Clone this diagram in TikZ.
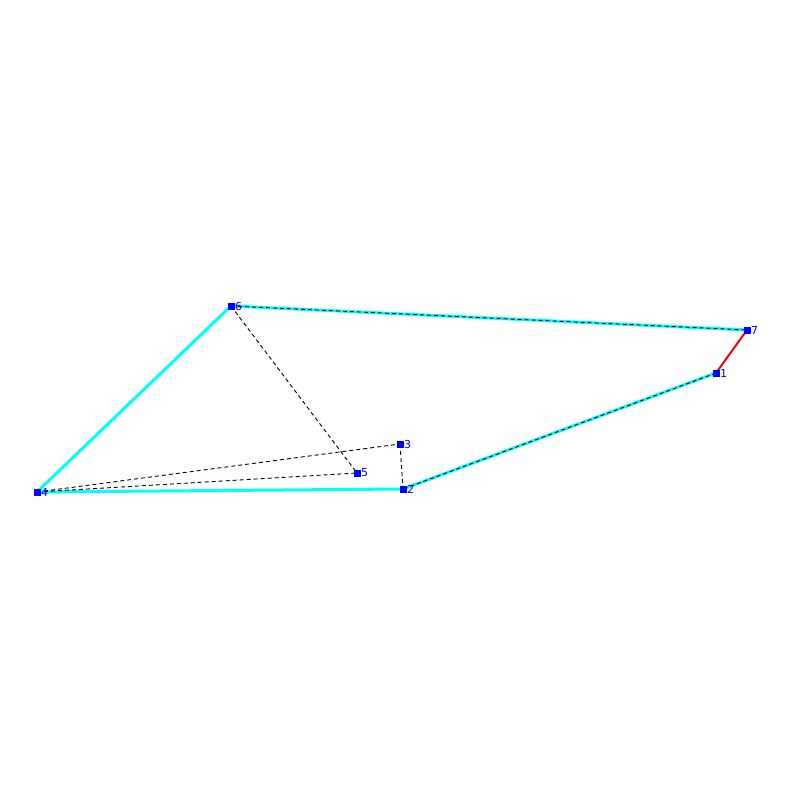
\documentclass[tikz,border=0pt]{standalone}
\usepackage{fontspec}
\setmainfont{DejaVu Sans}
\definecolor{aqua}{RGB}{0,255,255}
\definecolor{ptblue}{RGB}{0,0,255}
\definecolor{rline}{RGB}{255,0,0}
\begin{document}
\begin{tikzpicture}[x=1pt,y=-1pt,
  pt/.style={fill=ptblue, minimum size=7pt, inner sep=0pt, outer sep=0pt},
  lab/.style={text=ptblue, font=\fontsize{11}{11}\selectfont, inner sep=0pt, anchor=west, xshift=4pt},
  cyanline/.style={aqua, line width=3pt},
  dline/.style={black, line width=0.9pt, dash pattern=on 4pt off 3pt},
  redline/.style={rline, line width=2pt}]
\useasboundingbox (0,0) rectangle (800,800);
\fill[white] (0,0) rectangle (800,800);
\coordinate (p1) at (716,373);
\coordinate (p2) at (403,489);
\coordinate (p3) at (400,444);
\coordinate (p4) at (37,492);
\coordinate (p5) at (357,473);
\coordinate (p6) at (231,306);
\coordinate (p7) at (747,330);
\draw[cyanline] (p6) -- (p7);
\draw[cyanline] (p1) -- (p2);
\draw[cyanline] (p2) -- (p4);
\draw[cyanline] (p4) -- (p6);
\draw[redline] (p7) -- (p1);
\draw[dline] (p6) -- (p7);
\draw[dline] (p1) -- (p2);
\draw[dline] (p6) -- (p5);
\draw[dline] (p4) -- (p3);
\draw[dline] (p4) -- (p5);
\draw[dline] (p3) -- (p2);
\foreach \i in {1,...,7} {
  \node[pt] (n\i) at (p\i) {};
  \node[lab] (l\i) at (p\i) {\i};
}
\end{tikzpicture}
\end{document}
